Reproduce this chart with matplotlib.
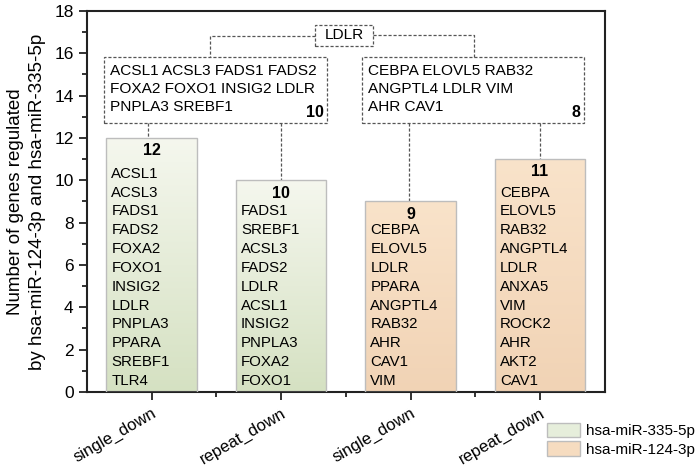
import numpy as np
import matplotlib
matplotlib.use('Agg')
from matplotlib import pyplot as plt
from matplotlib.patches import Rectangle, Patch
from matplotlib.colors import LinearSegmentedColormap

plt.rcParams['font.family'] = ['Liberation Sans', 'DejaVu Sans']

categories = ['single_down', 'repeat_down', 'single_down', 'repeat_down']
counts = [12, 10, 9, 11]
genes = [
    ['ACSL1', 'ACSL3', 'FADS1', 'FADS2', 'FOXA2', 'FOXO1', 'INSIG2', 'LDLR',
     'PNPLA3', 'PPARA', 'SREBF1', 'TLR4'],
    ['FADS1', 'SREBF1', 'ACSL3', 'FADS2', 'LDLR', 'ACSL1', 'INSIG2', 'PNPLA3',
     'FOXA2', 'FOXO1'],
    ['CEBPA', 'ELOVL5', 'LDLR', 'PPARA', 'ANGPTL4', 'RAB32', 'AHR', 'CAV1', 'VIM'],
    ['CEBPA', 'ELOVL5', 'RAB32', 'ANGPTL4', 'LDLR', 'ANXA5', 'VIM', 'ROCK2',
     'AHR', 'AKT2', 'CAV1'],
]
mirna = ['hsa-miR-335-5p', 'hsa-miR-335-5p', 'hsa-miR-124-3p', 'hsa-miR-124-3p']

# overlap of single/repeat per miRNA
common_335 = ['ACSL1 ACSL3 FADS1 FADS2', 'FOXA2 FOXO1 INSIG2 LDLR', 'PNPLA3 SREBF1']
common_335_n = 10
common_124 = ['CEBPA ELOVL5 RAB32', 'ANGPTL4 LDLR VIM', 'AHR CAV1']
common_124_n = 8
common_all = 'LDLR'

grad = {
    'hsa-miR-335-5p': LinearSegmentedColormap.from_list('g', ['#d5e1c2', '#f5f7ee']),
    'hsa-miR-124-3p': LinearSegmentedColormap.from_list('o', ['#f1d3b5', '#f9e3ca']),
}
legend_colors = {'hsa-miR-335-5p': '#e6eedb', 'hsa-miR-124-3p': '#f6dcc0'}

fig = plt.figure(figsize=(7, 4.68), dpi=100)
ax = fig.add_axes([0.124, 0.1624, 0.74, 0.8141])

x = np.arange(len(categories))
width = 0.7
bars = ax.bar(x, counts, width=width, color='none', edgecolor='#bdbdbd',
              linewidth=1.0, zorder=3)

g = np.linspace(0, 1, 256).reshape(-1, 1)
for i, b in enumerate(bars):
    im = ax.imshow(g, cmap=grad[mirna[i]], aspect='auto', origin='lower',
                   extent=[x[i] - width / 2, x[i] + width / 2, 0, counts[i]],
                   zorder=2)
    im.set_clip_path(b)
    ax.text(x[i], counts[i] - 0.6, str(counts[i]), ha='center', va='center',
            fontsize=11.5, fontweight='bold', zorder=4)
    n = len(genes[i])
    for k, name in enumerate(genes[i]):
        ax.text(x[i] - width / 2 + 0.04, 0.52 + 0.89 * (n - 1 - k), name,
                ha='left', va='center', fontsize=10.8, zorder=4)

dash = dict(color='#555555', linestyle=(0, (2.5, 1.5)), linewidth=0.9)

# overlap boxes
for x0, x1, lines, n in [(-0.364, 1.357, common_335, common_335_n),
                         (1.628, 3.34, common_124, common_124_n)]:
    ax.add_patch(Rectangle((x0, 12.71), x1 - x0, 15.82 - 12.71, fill=False,
                           edgecolor='#555555', linestyle=(0, (2.5, 1.5)),
                           linewidth=0.9, zorder=4))
    for j, line in enumerate(lines):
        ax.text(x0 + 0.045, 15.17 - 0.86 * j, line, ha='left', va='center',
                fontsize=11.1, zorder=5)
    ax.text(x1 - 0.03, 13.2, str(n), ha='right', va='center', fontsize=11.5,
            fontweight='bold', zorder=5)

# connectors box -> bars
ax.plot([-0.03, -0.03], [12.71, counts[0]], **dash)
ax.plot([1.0, 1.0], [12.71, counts[1]], **dash)
ax.plot([1.99, 1.99], [12.71, counts[2]], **dash)
ax.plot([3.0, 3.0], [12.71, counts[3]], **dash)

# LDLR box on top
ax.add_patch(Rectangle((1.264, 16.34), 1.713 - 1.264, 17.34 - 16.34, fill=False,
                       edgecolor='#555555', linestyle=(0, (2.5, 1.5)),
                       linewidth=0.9, zorder=4))
ax.text(1.488, 16.86, common_all, ha='center', va='center', fontsize=11.1)
ax.plot([1.264, 0.45, 0.45], [16.8, 16.8, 15.82], **dash)
ax.plot([1.713, 2.49, 2.49], [16.86, 16.86, 15.82], **dash)

ax.set_xlim(-0.5, 3.5)
ax.set_ylim(0, 18)
ax.set_yticks(np.arange(0, 19, 2))
ax.set_yticks(np.arange(1, 18, 2), minor=True)
ax.set_xticks(x)
ax.set_xticks(x[:-1] + 0.5, minor=True)
ax.set_xticklabels(categories, rotation=30, ha='right', rotation_mode='anchor',
                   fontsize=12)
ax.tick_params(axis='y', labelsize=12.5)
ax.tick_params(which='both', direction='out', width=1.3, color='#222222')
ax.tick_params(which='major', length=6)
ax.tick_params(which='minor', length=3.5)
for s in ax.spines.values():
    s.set_linewidth(1.5)
    s.set_color('#222222')

ax.set_ylabel('Number of genes regulated\nby hsa-miR-124-3p and hsa-miR-335-5p',
              fontsize=13.5, linespacing=1.35, labelpad=6)

handles = [Patch(facecolor=legend_colors[m], edgecolor='#bdbdbd', label=m)
           for m in ['hsa-miR-335-5p', 'hsa-miR-124-3p']]
fig.legend(handles=handles, loc='upper left', bbox_to_anchor=(0.772, 0.11),
           frameon=False, fontsize=11, handlelength=2.2, handleheight=1.1,
           labelspacing=0.2, handletextpad=0.4, borderaxespad=0)

plt.savefig('out.png', dpi=100)
